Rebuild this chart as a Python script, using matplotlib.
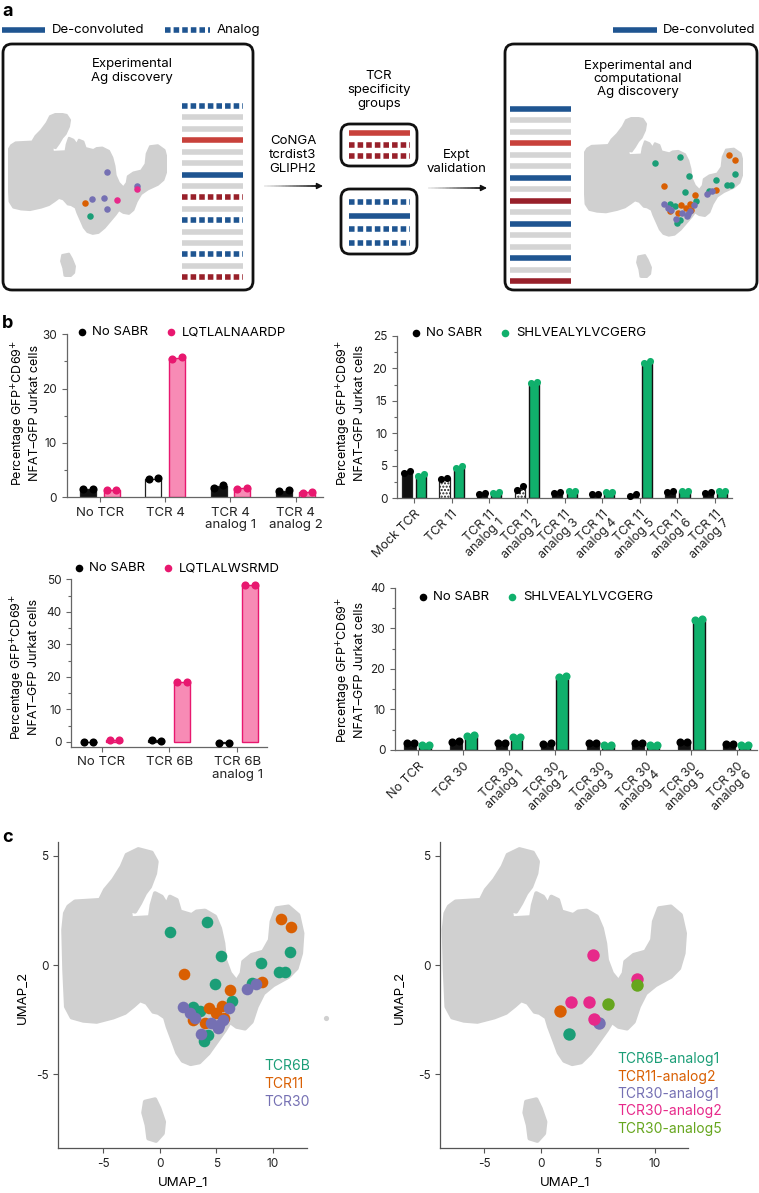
import numpy as np
import matplotlib
matplotlib.use('Agg')
import matplotlib.pyplot as plt
from matplotlib.patches import Polygon, FancyBboxPatch
from matplotlib.collections import LineCollection
from matplotlib.ticker import MultipleLocator

plt.rcParams['font.family'] = ['Inter', 'DejaVu Sans']
plt.rcParams['axes.unicode_minus'] = False

W, H = 759, 1193

# ---------------- data ----------------
# outline of the UMAP cell cloud (UMAP units)
cloud_x = [-8.08, -7.49, -5.28, -4.84, -4.10, -3.36, -2.92, -1.89, -0.71, -0.27,
           -0.41, -0.86, -1.30, -1.74, -2.18, -2.63, -2.54, -0.86, -0.71, -0.41,
           0.18, 0.62, 0.91, 1.50, 1.80, 2.83, 3.27, 4.01, 4.90, 5.34,
           5.63, 5.78, 6.22, 6.81, 7.26, 7.40, 8.14, 9.17, 9.76, 9.91,
           10.35, 11.39, 12.27, 12.63, 12.51, 12.12, 11.39, 10.06, 9.17, 8.58,
           8.14, 7.55, 6.81, 6.22, 5.78, 5.04, 4.31, 3.51, 2.74, 2.04,
           1.56, 1.15, 0.71, 0.47, -0.12, -0.56, -1.15, -1.74, -2.33, -3.07,
           -4.10, -5.58, -6.76, -7.79, -8.29, -8.44, -8.53, -8.38]
cloud_y = [2.68, 2.91, 2.98, 3.44, 3.90, 4.51, 5.05, 5.31, 5.15, 4.74,
           4.20, 3.59, 3.29, 2.83, 2.45, 2.52, 2.14, 2.19, 2.75, 3.29,
           3.13, 2.75, 3.13, 2.98, 2.45, 2.29, 2.45, 2.49, 2.22, 1.68,
           0.99, 0.23, -0.38, -0.76, -0.38, 0.15, 0.46, 0.61, 1.15, 1.99,
           2.60, 2.68, 2.29, 1.45, 0.54, -0.15, -0.54, -0.92, -1.30, -1.91,
           -2.60, -2.91, -2.83, -2.60, -2.98, -3.52, -4.05, -4.46, -4.54, -4.39,
           -4.02, -3.44, -2.83, -2.40, -2.19, -2.14, -1.73, -1.61, -1.88, -2.19,
           -2.40, -2.60, -2.55, -2.40, -1.91, -0.23, 1.61, 2.37]
island_x = [-1.30, -0.41, -0.03, 0.38, 0.27, -0.32, -1.00, -1.15, -1.45]
island_y = [-6.27, -6.16, -6.57, -7.19, -7.72, -8.06, -7.95, -7.34, -6.77]
stray_x, stray_y = [14.7], [-2.45]

# panel c (left): cells per TCR
tcr6b_x = [0.87, 4.19, 5.44, 4.94, 9.01, 11.54, 10.52, 11.05, 6.37, 8.14, 2.91, 3.55, 3.90, 4.27]
tcr6b_y = [1.50, 1.97, 0.41, -0.89, 0.11, 0.61, -0.31, -0.31, -1.65, -0.84, -1.91, -2.11, -3.47, -3.21]
tcr11_x = [10.73, 11.60, 2.18, 6.25, 9.07, 4.36, 5.52, 2.97, 3.98, 5.00, 5.73]
tcr11_y = [2.13, 1.76, -0.40, -1.15, -0.78, -1.99, -1.88, -2.52, -2.68, -2.22, -2.45]
tcr30_x = [2.09, 2.67, 3.11, 3.69, 4.56, 5.29, 5.58, 6.10, 7.76, 8.49, 5.15]
tcr30_y = [-1.91, -2.22, -2.45, -3.18, -2.68, -2.75, -2.52, -1.96, -1.12, -0.87, -2.90]

# panel c (right): cells per analog
a6b1_x, a6b1_y = [2.44], [-3.17]
a112_x, a112_y = [1.66], [-2.09]
a301_x, a301_y = [5.06], [-2.68]
a302_x = [4.59, 2.67, 4.22, 4.62, 8.40]
a302_y = [0.46, -1.71, -1.68, -2.49, -0.66]
a305_x = [5.87, 8.43]
a305_y = [-1.79, -0.90]

# panel a schematic (left box) cells
sch_purple_x = [4.64, 8.56, 2.68, 4.25, 4.64]
sch_purple_y = [0.48, -0.66, -1.73, -1.65, -2.54]
sch_pink_x, sch_pink_y = [8.56, 5.95], [-0.90, -1.80]
sch_orange_x, sch_orange_y = [1.77], [-2.05]
sch_green_x, sch_green_y = [2.42], [-3.10]

# panel a row patterns
left_rows = ['bd', 'g', 'g', 'r', 'g', 'g', 'b', 'g', 'Rd', 'g', 'bd', 'g', 'g', 'bd', 'g', 'Rd']
right_rows = ['b', 'g', 'g', 'r', 'g', 'g', 'b', 'g', 'R', 'g', 'b', 'g', 'g', 'b', 'g', 'R']
group1_rows = ['r', 'Rd', 'Rd']
group2_rows = ['bd', 'b', 'bd', 'bd']

# panel b: replicate values (% GFP+CD69+)
tl_cats = ['No TCR', 'TCR 4', 'TCR 4\nanalog 1', 'TCR 4\nanalog 2']
tl_nosabr = [[1.5, 1.5], [3.4, 3.5], [1.8, 2.2], [1.2, 1.3]]
tl_pep = [[1.4, 1.4], [25.4, 25.8], [1.6, 1.8], [0.8, 1.0]]

tr_cats = ['Mock TCR', 'TCR 11', 'TCR 11\nanalog 1', 'TCR 11\nanalog 2', 'TCR 11\nanalog 3',
           'TCR 11\nanalog 4', 'TCR 11\nanalog 5', 'TCR 11\nanalog 6', 'TCR 11\nanalog 7']
tr_nosabr = [[3.9, 4.2], [3.0, 3.2], [0.7, 0.8], [1.3, 1.9], [0.8, 0.9],
             [0.6, 0.7], [0.3, 0.6], [1.0, 1.2], [0.8, 0.9]]
tr_pep = [[3.5, 3.7], [4.6, 4.9], [0.8, 1.0], [17.7, 17.9], [1.1, 1.2],
          [1.0, 1.0], [20.9, 21.1], [1.2, 1.2], [1.1, 1.2]]

bl_cats = ['No TCR', 'TCR 6B', 'TCR 6B\nanalog 1']
bl_nosabr = [[-0.2, -0.2], [0.6, 0.4], [-0.5, -0.5]]
bl_pep = [[0.5, 0.5], [18.4, 18.4], [48.3, 48.3]]

br_cats = ['No TCR', 'TCR 30', 'TCR 30\nanalog 1', 'TCR 30\nanalog 2', 'TCR 30\nanalog 3',
           'TCR 30\nanalog 4', 'TCR 30\nanalog 5', 'TCR 30\nanalog 6']
br_nosabr = [[1.8, 1.8], [2.0, 2.1], [1.8, 1.8], [1.6, 1.7], [1.8, 1.8], [1.8, 1.8], [2.0, 2.0], [1.6, 1.6]]
br_pep = [[1.2, 1.2], [3.5, 3.7], [3.1, 3.3], [18.0, 18.3], [1.2, 1.2], [1.2, 1.2], [32.1, 32.3], [1.2, 1.2]]

# ---------------- style ----------------
GRAY = '#d0d0d0'
C_GREEN, C_ORANGE, C_PURPLE, C_PINK, C_LIME = '#1b9e77', '#d95f02', '#7570b3', '#e7298a', '#66a61e'
BLUE, RED, DRED, ROWGRAY = '#1f5591', '#c8413b', '#98202a', '#d4d4d4'
PINK_FILL, PINK_EDGE, PINK_DOT = '#f78bb5', '#e8186f', '#e8186f'
BGREEN = '#10b06c'

fig = plt.figure(figsize=(W / 100, H / 100), dpi=100)


def px_axes(x0, y0, x1, y1):
    ax = fig.add_axes([x0 / W, 1 - y1 / H, (x1 - x0) / W, (y1 - y0) / H])
    ax.set_facecolor('none')
    return ax


ov = fig.add_axes([0, 0, 1, 1])
ov.set_xlim(0, W)
ov.set_ylim(H, 0)
ov.axis('off')

# ---------------- panel a ----------------
ov.text(2, 12, 'a', fontsize=13, fontweight='bold', va='center')
ov.text(2, 324, 'b', fontsize=13, fontweight='bold', va='center')
ov.text(2, 837, 'c', fontsize=13, fontweight='bold', va='center')

row_lw = 4.0
row_color = {'b': BLUE, 'bd': BLUE, 'r': RED, 'R': DRED, 'Rd': DRED, 'g': ROWGRAY}


def draw_row(x0, x1, y, kind):
    ls = (0, (1.0, 0.55)) if kind.endswith('d') else '-'
    ov.plot([x0, x1], [y, y], color=row_color[kind], lw=row_lw, ls=ls,
            solid_capstyle='butt', dash_capstyle='butt')


def draw_rows(rows, x0, x1, y0, step):
    for i, k in enumerate(rows):
        draw_row(x0, x1, y0 + i * step, k)


# legends
draw_row(2, 45, 30, 'b')
ov.text(52, 30, 'De-convoluted', fontsize=9.5, va='center')
draw_row(165, 210, 30, 'bd')
ov.text(217, 30, 'Analog', fontsize=9.5, va='center')
draw_row(613, 657, 30, 'b')
ov.text(663, 30, 'De-convoluted', fontsize=9.5, va='center')

for (bx, by, bw, bh) in [(3, 44, 250, 246), (505, 44, 252, 246), (341, 124, 76, 42), (341, 189, 76, 65)]:
    ov.add_patch(FancyBboxPatch((bx, by), bw, bh, boxstyle='round,pad=0,rounding_size=9',
                                fill=False, lw=2, ec='#111'))

draw_rows(left_rows, 182, 243, 106, 11.42)
draw_rows(right_rows, 510, 571, 109, 11.47)
draw_rows(group1_rows, 349, 410, 133, 11.5)
draw_rows(group2_rows, 349, 410, 202, 13.7)

ov.text(132, 71, 'Experimental\nAg discovery', ha='center', va='center', fontsize=9.5, linespacing=1.15)
ov.text(293, 155, 'CoNGA\ntcrdist3\nGLIPH2', ha='center', va='center', fontsize=9.5, linespacing=1.2)
ov.text(379, 90, 'TCR\nspecificity\ngroups', ha='center', va='center', fontsize=9.5, linespacing=1.2)
ov.text(457, 162, 'Expt\nvalidation', ha='center', va='center', fontsize=9.5, linespacing=1.2)
ov.text(638, 79, 'Experimental and\ncomputational\nAg discovery', ha='center', va='center',
        fontsize=9.5, linespacing=1.15)


def grad_arrow(x0, x1, y):
    xs = np.linspace(x0, x1 - 5, 40)
    segs = [[(xs[i], y), (xs[i + 1], y)] for i in range(len(xs) - 1)]
    cols = plt.cm.Greys(np.linspace(0.15, 0.95, len(segs)))
    ov.add_collection(LineCollection(segs, colors=cols, linewidths=1.3))
    ov.annotate('', xy=(x1, y), xytext=(x1 - 7, y),
                arrowprops=dict(arrowstyle='-|>', color='#111', lw=1.0,
                                mutation_scale=9, shrinkA=0, shrinkB=0))


grad_arrow(264, 323, 186)
grad_arrow(428, 487, 188)


def cloud(ax, lw, stray=False):
    ax.add_patch(Polygon(np.column_stack([cloud_x, cloud_y]), closed=True, fc=GRAY, ec=GRAY,
                         lw=lw, joinstyle='round', zorder=1))
    ax.add_patch(Polygon(np.column_stack([island_x, island_y]), closed=True, fc=GRAY, ec=GRAY,
                         lw=lw, joinstyle='round', zorder=1))
    if stray:
        ax.scatter(stray_x, stray_y, s=14, color=GRAY, lw=0, clip_on=False, zorder=1)


sch_l = px_axes(8, 113, 167, 277)
sch_l.set_xlim(-8.5, 12.6)
sch_l.set_ylim(-8.06, 5.31)
sch_l.axis('off')
cloud(sch_l, 1.5)
for xs, ys, c in [(sch_green_x, sch_green_y, C_GREEN), (sch_orange_x, sch_orange_y, C_ORANGE),
                  (sch_purple_x, sch_purple_y, C_PURPLE), (sch_pink_x, sch_pink_y, C_PINK)]:
    sch_l.scatter(xs, ys, s=22, color=c, lw=0, zorder=3)

sch_r = px_axes(584, 117, 743, 278)
sch_r.set_xlim(-8.5, 12.6)
sch_r.set_ylim(-8.06, 5.31)
sch_r.axis('off')
cloud(sch_r, 1.5)
for xs, ys, c in [(tcr6b_x, tcr6b_y, C_GREEN), (tcr11_x, tcr11_y, C_ORANGE), (tcr30_x, tcr30_y, C_PURPLE)]:
    sch_r.scatter(xs, ys, s=22, color=c, lw=0, zorder=3)

# ---------------- panel b ----------------
YLAB = 'Percentage GFP$^{+}$CD69$^{+}$\nNFAT–GFP Jurkat cells'


def bar_panel(rect, xlim, ylim, cats, nosabr, pep, width, off, pep_fill, pep_edge, pep_dot,
              major, minor, ytop, rotate, black_fill, hatches, dot_s, black_edge='#222'):
    ax = px_axes(*rect)
    n = len(cats)
    x = np.arange(n)
    m0 = [np.mean(v) for v in nosabr]
    m1 = [np.mean(v) for v in pep]
    for i in range(n):
        ax.bar(x[i] - off, m0[i], width, color=black_fill[i], edgecolor=black_edge, lw=0.9,
               hatch=hatches[i], zorder=2)
        ax.bar(x[i] + off, m1[i], width, color=pep_fill, edgecolor=pep_edge, lw=1.0, zorder=2)
        jit = np.array([-0.3, 0.3]) * width
        ax.scatter(x[i] - off + jit, nosabr[i], s=dot_s, color='#000', lw=0, zorder=3, clip_on=False)
        ax.scatter(x[i] + off + jit, pep[i], s=dot_s, color=pep_dot, lw=0, zorder=3, clip_on=False)
    ax.set_xlim(*xlim)
    ax.set_ylim(*ylim)
    ax.yaxis.set_major_locator(MultipleLocator(major))
    ax.yaxis.set_minor_locator(MultipleLocator(minor))
    ax.spines[['top', 'right']].set_visible(False)
    for s in ['left', 'bottom']:
        ax.spines[s].set_color('#666')
        ax.spines[s].set_linewidth(0.9)
    ax.spines['left'].set_bounds(ylim[0], ytop)
    ax.set_xticks(x)
    if rotate:
        ax.set_xticklabels(cats, rotation=45, ha='right', rotation_mode='anchor',
                           fontsize=9, linespacing=1.0)
    else:
        ax.set_xticklabels(cats, fontsize=9.5, linespacing=1.05)
    ax.tick_params(axis='both', colors='#666', labelcolor='#222', length=3.5, width=0.8)
    ax.tick_params(axis='y', labelsize=8.5)
    ax.tick_params(axis='y', which='minor', length=2.5, width=0.8, colors='#666')
    return ax


bar_panel((66.7, 334.3, 323, 497.3), (-0.51, 3.42), (0, 30), tl_cats, tl_nosabr, tl_pep,
          0.245, 0.18, PINK_FILL, PINK_EDGE, PINK_DOT, 10, 5, 30, False,
          ['#111', 'white', '#111', '#111'], [None] * 4, 34)
bar_panel((397, 336, 732, 498.3), (-0.45, 8.45), (0, 25), tr_cats, tr_nosabr, tr_pep,
          0.27, 0.19, BGREEN, '#111', BGREEN, 5, 2.5, 25, True,
          ['#111', 'white', '#111', 'white', '#111', '#111', '#111', '#111', '#111'],
          [None, '.....', None, '.....', None, None, None, None, None], 26)
bar_panel((71, 579.3, 267, 746.7), (-0.45, 2.44), (-1.5, 50), bl_cats, bl_nosabr, bl_pep,
          0.236, 0.19, PINK_FILL, PINK_EDGE, PINK_DOT, 10, 5, 50, False,
          ['#111', '#111', '#111'], [None] * 3, 34)
bar_panel((395, 587.7, 757, 750), (-0.5, 7.44), (0, 40), br_cats, br_nosabr, br_pep,
          0.26, 0.165, BGREEN, '#111', BGREEN, 10, 5, 40, True,
          ['#111'] * 8, [None] * 8, 34)

for (x, y) in [(25.5, 413), (350.5, 413), (24.5, 667), (350.5, 670)]:
    ov.text(x, y, YLAB, rotation=90, ha='center', va='center', fontsize=9, linespacing=1.15)

for (x0, y, name, c) in [(82, 332, 'LQTLALNAARDP', PINK_DOT), (416, 333, 'SHLVEALYLVCGERG', BGREEN),
                         (79, 568, 'LQTLALWSRMD', PINK_DOT), (423, 597, 'SHLVEALYLVCGERG', BGREEN)]:
    ov.scatter([x0], [y], s=30, color='#000', lw=0)
    ov.text(x0 + 10, y, 'No SABR', fontsize=9.5, va='center')
    ov.scatter([x0 + 89], [y], s=30, color=c, lw=0)
    ov.text(x0 + 100, y, name, fontsize=9.5, va='center')

# ---------------- panel c ----------------


def umap_panel(rect, xlim, stray, groups, s):
    ax = px_axes(*rect)
    cloud(ax, 3, stray)
    for xs, ys, c in groups:
        ax.scatter(xs, ys, s=s, color=c, lw=0, zorder=3)
    ax.set_xlim(*xlim)
    ax.set_ylim(-8.39, 5.64)
    ax.set_xticks([-5, 0, 5, 10])
    ax.set_yticks([-5, 0, 5])
    ax.spines[['top', 'right']].set_visible(False)
    for sp in ['left', 'bottom']:
        ax.spines[sp].set_color('#555')
        ax.spines[sp].set_linewidth(0.9)
    ax.tick_params(colors='#555', labelcolor='#222', labelsize=8.5, length=3.5, width=0.8)
    return ax


umap_panel((58, 842, 307, 1148), (-9.0, 13.04), True,
           [(tcr6b_x, tcr6b_y, C_GREEN), (tcr11_x, tcr11_y, C_ORANGE), (tcr30_x, tcr30_y, C_PURPLE)], 70)
umap_panel((440, 842, 688, 1148), (-8.86, 12.9), False,
           [(a6b1_x, a6b1_y, C_GREEN), (a112_x, a112_y, C_ORANGE), (a301_x, a301_y, C_PURPLE),
            (a302_x, a302_y, C_PINK), (a305_x, a305_y, C_LIME)], 80)

for x, y in [(23, 997), (400, 997)]:
    ov.text(x, y, 'UMAP_2', rotation=90, ha='center', va='center', fontsize=9.5)
for x, y in [(183, 1183), (565, 1183)]:
    ov.text(x, y, 'UMAP_1', ha='center', va='center', fontsize=9.5)

for i, (t, c) in enumerate([('TCR6B', C_GREEN), ('TCR11', C_ORANGE), ('TCR30', C_PURPLE)]):
    ov.text(264, 1066 + i * 17.8, t, color=c, fontsize=10, va='center')
for i, (t, c) in enumerate([('TCR6B-analog1', C_GREEN), ('TCR11-analog2', C_ORANGE),
                            ('TCR30-analog1', C_PURPLE), ('TCR30-analog2', C_PINK),
                            ('TCR30-analog5', C_LIME)]):
    ov.text(617, 1059 + i * 17.5, t, color=c, fontsize=10, va='center')

fig.savefig('out.png', dpi=100)
